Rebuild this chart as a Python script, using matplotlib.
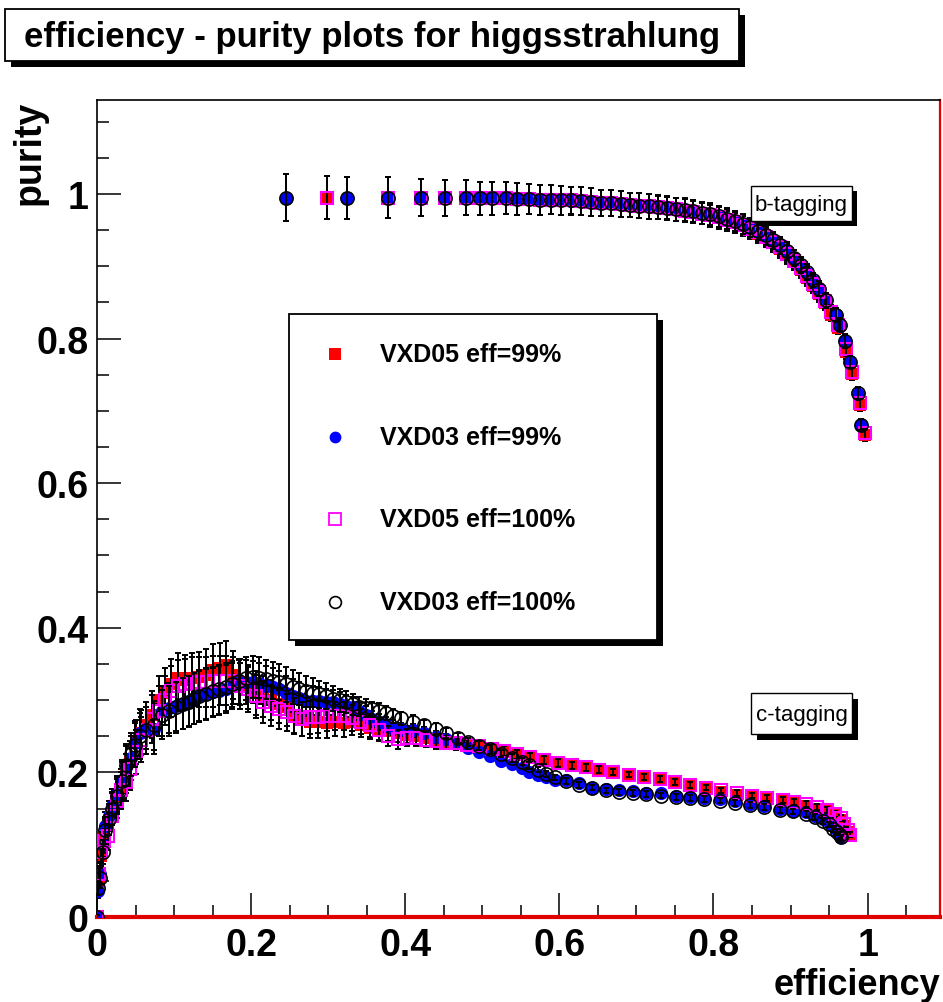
import matplotlib
matplotlib.use("Agg")
import matplotlib.pyplot as plt
from matplotlib.patches import Rectangle
from matplotlib.ticker import MultipleLocator, FixedLocator

# ---------------- data ----------------
# b-tagging, VXD05
x_b05 = [0.298, 0.378, 0.420, 0.452, 0.479, 0.497, 0.513, 0.531, 0.545, 0.561,
         0.575, 0.589, 0.602, 0.615, 0.628, 0.641, 0.654, 0.667, 0.680, 0.692,
         0.704, 0.716, 0.728, 0.740, 0.752, 0.763, 0.774, 0.785, 0.796, 0.807,
         0.818, 0.828, 0.838, 0.848, 0.858, 0.868, 0.877, 0.886, 0.895, 0.904,
         0.913, 0.921, 0.929, 0.937, 0.945, 0.953, 0.961, 0.972, 0.980, 0.990,
         0.997]
p_b05_99 = [0.995, 0.995, 0.995, 0.995, 0.995, 0.994, 0.994, 0.994, 0.993, 0.993,
            0.992, 0.992, 0.991, 0.990, 0.990, 0.989, 0.988, 0.987, 0.986, 0.985,
            0.984, 0.983, 0.981, 0.980, 0.979, 0.977, 0.975, 0.973, 0.970, 0.967,
            0.963, 0.960, 0.956, 0.951, 0.945, 0.939, 0.932, 0.924, 0.915, 0.906,
            0.895, 0.884, 0.873, 0.861, 0.849, 0.833, 0.815, 0.781, 0.751, 0.708,
            0.667]
p_b05_100 = [0.995, 0.995, 0.995, 0.995, 0.995, 0.994, 0.994, 0.994, 0.993, 0.993,
             0.992, 0.992, 0.991, 0.991, 0.990, 0.989, 0.988, 0.987, 0.986, 0.985,
             0.984, 0.983, 0.982, 0.980, 0.979, 0.977, 0.975, 0.973, 0.971, 0.968,
             0.964, 0.961, 0.957, 0.952, 0.947, 0.941, 0.934, 0.926, 0.917, 0.908,
             0.898, 0.887, 0.876, 0.864, 0.852, 0.837, 0.819, 0.785, 0.754, 0.711,
             0.669]
e_b05 = [0.030, 0.028, 0.026, 0.025, 0.024, 0.023, 0.023, 0.022, 0.022, 0.021,
         0.021, 0.020, 0.020, 0.019, 0.019, 0.019, 0.018, 0.018, 0.018, 0.017,
         0.017, 0.017, 0.016, 0.016, 0.016, 0.016, 0.015, 0.015, 0.015, 0.015,
         0.014, 0.014, 0.014, 0.013, 0.013, 0.013, 0.012, 0.012, 0.012, 0.011,
         0.011, 0.011, 0.010, 0.010, 0.010, 0.009, 0.009, 0.009, 0.008, 0.008,
         0.008]

# b-tagging, VXD03
x_b03 = [0.245, 0.325, 0.378, 0.420, 0.452, 0.479, 0.497, 0.513, 0.531, 0.545,
         0.561, 0.575, 0.589, 0.602, 0.615, 0.628, 0.641, 0.654, 0.667, 0.680,
         0.692, 0.704, 0.716, 0.728, 0.740, 0.752, 0.763, 0.774, 0.785, 0.796,
         0.807, 0.818, 0.828, 0.838, 0.848, 0.858, 0.868, 0.877, 0.886, 0.895,
         0.904, 0.913, 0.921, 0.929, 0.937, 0.946, 0.959, 0.964, 0.971, 0.977,
         0.987, 0.992]
p_b03_99 = [0.995, 0.995, 0.995, 0.995, 0.995, 0.995, 0.994, 0.994, 0.994, 0.993,
            0.993, 0.992, 0.992, 0.991, 0.990, 0.990, 0.989, 0.988, 0.987, 0.986,
            0.985, 0.984, 0.983, 0.982, 0.980, 0.979, 0.977, 0.976, 0.974, 0.971,
            0.968, 0.965, 0.962, 0.958, 0.953, 0.948, 0.942, 0.935, 0.928, 0.920,
            0.911, 0.901, 0.891, 0.880, 0.868, 0.852, 0.832, 0.818, 0.796, 0.767,
            0.724, 0.680]
p_b03_100 = [0.995, 0.995, 0.995, 0.995, 0.995, 0.995, 0.994, 0.994, 0.994, 0.993,
             0.993, 0.992, 0.992, 0.991, 0.991, 0.990, 0.989, 0.988, 0.987, 0.986,
             0.985, 0.984, 0.983, 0.982, 0.981, 0.979, 0.978, 0.976, 0.974, 0.972,
             0.969, 0.966, 0.963, 0.959, 0.954, 0.949, 0.943, 0.936, 0.929, 0.921,
             0.912, 0.902, 0.892, 0.881, 0.869, 0.853, 0.833, 0.819, 0.797, 0.768,
             0.725, 0.681]
e_b03 = [0.032, 0.029, 0.028, 0.026, 0.025, 0.024, 0.023, 0.023, 0.022, 0.022,
         0.021, 0.021, 0.020, 0.020, 0.019, 0.019, 0.019, 0.018, 0.018, 0.018,
         0.017, 0.017, 0.017, 0.016, 0.016, 0.016, 0.016, 0.015, 0.015, 0.015,
         0.015, 0.014, 0.014, 0.014, 0.013, 0.013, 0.013, 0.012, 0.012, 0.012,
         0.011, 0.011, 0.011, 0.010, 0.010, 0.010, 0.009, 0.009, 0.009, 0.008,
         0.008, 0.008]

# c-tagging, VXD05
x_c05 = [0.000, 0.002, 0.005, 0.009, 0.014, 0.020, 0.026, 0.031, 0.037, 0.043,
         0.050, 0.057, 0.064, 0.072, 0.080, 0.088, 0.096, 0.105, 0.114, 0.123,
         0.132, 0.141, 0.150, 0.159, 0.168, 0.177, 0.186, 0.196, 0.206, 0.216,
         0.226, 0.236, 0.246, 0.256, 0.266, 0.276, 0.287, 0.298, 0.309, 0.320,
         0.331, 0.342, 0.354, 0.366, 0.378, 0.390, 0.402, 0.414, 0.427, 0.440,
         0.453, 0.466, 0.480, 0.496, 0.512, 0.528, 0.545, 0.562, 0.580, 0.598,
         0.616, 0.634, 0.652, 0.670, 0.690, 0.710, 0.730, 0.750, 0.770, 0.790,
         0.810, 0.830, 0.850, 0.870, 0.890, 0.905, 0.920, 0.935, 0.948, 0.958,
         0.965, 0.970, 0.974, 0.977]
p_c05_99 = [0.000, 0.050, 0.085, 0.110, 0.130, 0.150, 0.168, 0.180, 0.198, 0.215,
            0.242, 0.255, 0.265, 0.280, 0.300, 0.310, 0.322, 0.330, 0.328, 0.330,
            0.332, 0.335, 0.342, 0.345, 0.348, 0.335, 0.325, 0.318, 0.310, 0.305,
            0.300, 0.295, 0.290, 0.280, 0.275, 0.270, 0.270, 0.268, 0.270, 0.268,
            0.270, 0.266, 0.262, 0.260, 0.257, 0.255, 0.252, 0.250, 0.247, 0.244,
            0.242, 0.240, 0.238, 0.237, 0.232, 0.228, 0.224, 0.220, 0.216, 0.212,
            0.209, 0.206, 0.203, 0.200, 0.196, 0.193, 0.190, 0.186, 0.182, 0.178,
            0.173, 0.169, 0.166, 0.163, 0.161, 0.158, 0.154, 0.150, 0.146, 0.141,
            0.134, 0.126, 0.118, 0.112]
p_c05_100 = [0.000, 0.060, 0.090, 0.105, 0.112, 0.140, 0.160, 0.175, 0.187, 0.205,
             0.228, 0.245, 0.258, 0.274, 0.285, 0.300, 0.312, 0.320, 0.322, 0.324,
             0.325, 0.325, 0.326, 0.327, 0.327, 0.327, 0.320, 0.315, 0.305, 0.298,
             0.292, 0.287, 0.283, 0.278, 0.274, 0.276, 0.277, 0.278, 0.278, 0.278,
             0.275, 0.270, 0.265, 0.258, 0.250, 0.246, 0.248, 0.247, 0.245, 0.243,
             0.241, 0.240, 0.238, 0.236, 0.232, 0.229, 0.225, 0.221, 0.217, 0.213,
             0.210, 0.207, 0.204, 0.201, 0.197, 0.194, 0.191, 0.187, 0.183, 0.179,
             0.175, 0.171, 0.168, 0.165, 0.162, 0.159, 0.156, 0.152, 0.148, 0.143,
             0.137, 0.129, 0.121, 0.114]
e_c05 = [0.003, 0.010, 0.014, 0.017, 0.019, 0.021, 0.023, 0.025, 0.027, 0.029,
         0.030, 0.031, 0.032, 0.033, 0.034, 0.034, 0.035, 0.035, 0.035, 0.035,
         0.035, 0.035, 0.035, 0.034, 0.034, 0.033, 0.032, 0.031, 0.030, 0.029,
         0.028, 0.027, 0.026, 0.025, 0.024, 0.023, 0.022, 0.021, 0.020, 0.019,
         0.018, 0.017, 0.016, 0.015, 0.014, 0.013, 0.012, 0.011, 0.010, 0.010,
         0.009, 0.009, 0.008, 0.008, 0.007, 0.007, 0.006, 0.006, 0.006, 0.005,
         0.005, 0.005, 0.005, 0.004, 0.004, 0.004, 0.004, 0.004, 0.004, 0.004,
         0.004, 0.004, 0.004, 0.004, 0.004, 0.004, 0.004, 0.004, 0.004, 0.004,
         0.004, 0.004, 0.004, 0.004]

# c-tagging, VXD03
x_c03 = [0.000, 0.001, 0.004, 0.008, 0.011, 0.016, 0.020, 0.026, 0.032, 0.038,
         0.044, 0.049, 0.056, 0.064, 0.074, 0.085, 0.094, 0.102, 0.111, 0.119,
         0.126, 0.132, 0.141, 0.150, 0.158, 0.167, 0.175, 0.184, 0.193, 0.202,
         0.210, 0.219, 0.228, 0.236, 0.245, 0.254, 0.262, 0.271, 0.280, 0.288,
         0.297, 0.306, 0.315, 0.323, 0.332, 0.340, 0.349, 0.357, 0.366, 0.375,
         0.384, 0.395, 0.410, 0.425, 0.440, 0.453, 0.468, 0.482, 0.496, 0.510,
         0.524, 0.539, 0.551, 0.561, 0.572, 0.583, 0.595, 0.608, 0.625, 0.643,
         0.660, 0.678, 0.695, 0.713, 0.732, 0.751, 0.769, 0.788, 0.808, 0.828,
         0.847, 0.866, 0.886, 0.903, 0.920, 0.932, 0.942, 0.950, 0.955, 0.960,
         0.964, 0.966]
p_c03_99 = [0.000, 0.036, 0.060, 0.100, 0.126, 0.140, 0.154, 0.170, 0.190, 0.207,
            0.220, 0.240, 0.255, 0.258, 0.260, 0.285, 0.289, 0.292, 0.295, 0.299,
            0.302, 0.306, 0.309, 0.311, 0.313, 0.315, 0.320, 0.325, 0.325, 0.325,
            0.323, 0.320, 0.318, 0.315, 0.310, 0.306, 0.303, 0.299, 0.299, 0.299,
            0.298, 0.297, 0.295, 0.292, 0.290, 0.285, 0.280, 0.274, 0.270, 0.266,
            0.262, 0.260, 0.258, 0.255, 0.249, 0.246, 0.240, 0.234, 0.228, 0.222,
            0.216, 0.212, 0.206, 0.200, 0.196, 0.193, 0.190, 0.189, 0.185, 0.179,
            0.177, 0.175, 0.174, 0.172, 0.171, 0.168, 0.166, 0.165, 0.163, 0.160,
            0.156, 0.153, 0.149, 0.147, 0.145, 0.140, 0.136, 0.132, 0.126, 0.121,
            0.115, 0.110]
p_c03_100 = [0.000, 0.040, 0.054, 0.090, 0.120, 0.135, 0.150, 0.168, 0.188, 0.210,
             0.225, 0.238, 0.250, 0.258, 0.265, 0.280, 0.285, 0.290, 0.295, 0.298,
             0.302, 0.305, 0.308, 0.312, 0.315, 0.318, 0.322, 0.326, 0.330, 0.332,
             0.331, 0.329, 0.327, 0.325, 0.322, 0.318, 0.315, 0.312, 0.310, 0.308,
             0.305, 0.302, 0.300, 0.297, 0.294, 0.291, 0.289, 0.287, 0.285, 0.282,
             0.278, 0.275, 0.270, 0.265, 0.260, 0.255, 0.248, 0.242, 0.237, 0.232,
             0.226, 0.220, 0.215, 0.210, 0.204, 0.198, 0.193, 0.188, 0.183, 0.179,
             0.175, 0.173, 0.172, 0.170, 0.168, 0.166, 0.165, 0.163, 0.161, 0.158,
             0.155, 0.152, 0.148, 0.146, 0.143, 0.138, 0.133, 0.128, 0.122, 0.118,
             0.113, 0.110]
e_c03 = [0.003, 0.010, 0.014, 0.017, 0.019, 0.021, 0.023, 0.025, 0.027, 0.029,
         0.030, 0.031, 0.032, 0.033, 0.034, 0.034, 0.035, 0.035, 0.035, 0.035,
         0.035, 0.035, 0.035, 0.034, 0.034, 0.033, 0.032, 0.031, 0.030, 0.029,
         0.028, 0.027, 0.026, 0.025, 0.024, 0.023, 0.022, 0.021, 0.020, 0.019,
         0.018, 0.017, 0.016, 0.015, 0.014, 0.013, 0.012, 0.011, 0.011, 0.010,
         0.010, 0.009, 0.009, 0.008, 0.008, 0.007, 0.007, 0.006, 0.006, 0.006,
         0.005, 0.005, 0.005, 0.005, 0.004, 0.004, 0.004, 0.004, 0.004, 0.004,
         0.004, 0.004, 0.004, 0.004, 0.004, 0.004, 0.004, 0.004, 0.004, 0.004,
         0.004, 0.004, 0.004, 0.004, 0.004, 0.004, 0.004, 0.004, 0.004, 0.004,
         0.004, 0.004]

series_labels = ["VXD05 eff=99%", "VXD03 eff=99%", "VXD05 eff=100%", "VXD03 eff=100%"]
tick_vals = [0, 0.2, 0.4, 0.6, 0.8, 1]
tick_labels = ["0", "0.2", "0.4", "0.6", "0.8", "1"]

# ---------------- figure ----------------
W, H = 943, 1003
fig = plt.figure(figsize=(W / 100, H / 100), dpi=100)
fig.patch.set_facecolor("white")
FONT = "Liberation Sans"

L, R, T, B = 97, 940, 101, 918
ax = fig.add_axes([L / W, 1 - B / H, (R - L) / W, (B - T) / H])
ax.set_xlim(0, 1.094)
ax.set_ylim(0, 1.130)

styles = [
    dict(marker="s", ms=9, mfc="red", mec="red", mew=0),
    dict(marker="o", ms=9.5, mfc="blue", mec="blue", mew=0),
    dict(marker="s", ms=9, mfc="none", mec="#ff00ff", mew=1.5),
    dict(marker="o", ms=9.5, mfc="none", mec="black", mew=1.2),
]
data = [
    [(x_b05, p_b05_99, e_b05), (x_c05, p_c05_99, e_c05)],
    [(x_b03, p_b03_99, e_b03), (x_c03, p_c03_99, e_c03)],
    [(x_b05, p_b05_100, e_b05), (x_c05, p_c05_100, e_c05)],
    [(x_b03, p_b03_100, e_b03), (x_c03, p_c03_100, e_c03)],
]
for k, (st, groups) in enumerate(zip(styles, data)):
    for (xx, yy, ee) in groups:
        ax.errorbar(xx, yy, yerr=ee, fmt="none", ecolor="black", elinewidth=1.4,
                    capsize=2.5, capthick=1.4, zorder=2 + k)
        ax.plot(xx, yy, linestyle="none", zorder=2.5 + k, **st)

# spines / ticks
for s in ["left", "top"]:
    ax.spines[s].set_color("black")
    ax.spines[s].set_linewidth(1.2)
ax.spines["right"].set_color("#e00000")
ax.spines["right"].set_linewidth(1.6)
ax.spines["bottom"].set_color("#e00000")
ax.spines["bottom"].set_linewidth(3.0)
ax.axhline(0, color="black", lw=1.2, zorder=1.5)

ax.xaxis.set_major_locator(FixedLocator(tick_vals))
ax.yaxis.set_major_locator(FixedLocator(tick_vals))
ax.set_xticklabels(tick_labels)
ax.set_yticklabels(tick_labels)
ax.xaxis.set_minor_locator(MultipleLocator(0.05))
ax.yaxis.set_minor_locator(MultipleLocator(0.05))
ax.tick_params(which="both", direction="in", top=False, right=False, color="black")
ax.tick_params(which="major", length=17, width=1.1)
ax.tick_params(which="minor", length=8.5, width=1.1)
ax.tick_params(axis="x", which="major", pad=7)
ax.tick_params(axis="y", which="major", pad=6)
for lab in ax.get_xticklabels() + ax.get_yticklabels():
    lab.set_fontfamily(FONT)
    lab.set_fontweight("bold")
    lab.set_fontsize(27)

# axis titles
fig.text(940 / W, 1 - 995 / H, "efficiency", ha="right", va="baseline",
         fontsize=26, fontweight="bold", family=FONT)
fig.text(30 / W, 1 - 101 / H, "purity", ha="center", va="top", rotation=90,
         fontsize=27, fontweight="bold", family=FONT)

# ---------------- overlay for boxes ----------------
ov = fig.add_axes([0, 0, 1, 1], zorder=10)
ov.set_xlim(0, W)
ov.set_ylim(H, 0)
ov.axis("off")
ov.patch.set_alpha(0)


def box(x0, y0, x1, y1, shadow=6, lw=1.3):
    ov.add_patch(Rectangle((x0 + shadow, y0 + shadow), x1 - x0, y1 - y0,
                           facecolor="black", edgecolor="black", lw=0))
    ov.add_patch(Rectangle((x0, y0), x1 - x0, y1 - y0,
                           facecolor="white", edgecolor="black", lw=lw))


# title
box(5, 10, 739, 62, shadow=6)
ov.text(372, 37, "efficiency - purity plots for higgsstrahlung", ha="center", va="center",
        fontsize=25, fontweight="bold", family=FONT)

# b / c tagging labels
box(751, 187, 852, 222, shadow=5, lw=1.0)
ov.text(801.5, 205, "b-tagging", ha="center", va="center", fontsize=16, family=FONT)
box(751, 694, 852, 735, shadow=6, lw=1.0)
ov.text(801.5, 715, "c-tagging", ha="center", va="center", fontsize=16, family=FONT)

# legend
box(289, 315, 657, 641, shadow=6, lw=1.3)
leg_rows = [355, 438, 520, 603]
leg_styles = [
    dict(marker="s", ms=8, mfc="red", mec="red", mew=0),
    dict(marker="o", ms=8.5, mfc="blue", mec="blue", mew=0),
    dict(marker="s", ms=8, mfc="none", mec="#ff00ff", mew=1.3),
    dict(marker="o", ms=8.5, mfc="none", mec="black", mew=1.2),
]
for yr, st, lab in zip(leg_rows, leg_styles, series_labels):
    ov.plot([335], [yr], linestyle="none", **st)
    ov.text(380, yr, lab, ha="left", va="center", fontsize=18, fontweight="bold",
            family=FONT)

fig.savefig("out.png", dpi=100)
